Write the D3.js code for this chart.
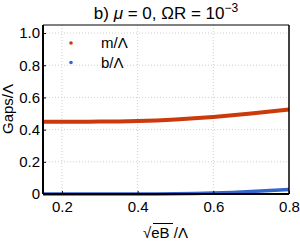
<!DOCTYPE html>
<html><head><meta charset="utf-8">
<script src="https://cdn.jsdelivr.net/npm/d3@7"></script>
<style>body{margin:0;background:#fff}svg{display:block;font-family:"Liberation Sans",Arial,sans-serif}</style>
</head><body>
<svg id="c" width="300" height="245"></svg>
<script>
const xVals = [0.15,0.2,0.25,0.3,0.35,0.4,0.45,0.5,0.55,0.6,0.65,0.7,0.75,0.8];
const mVals = [0.449,0.449,0.449,0.450,0.451,0.453,0.457,0.463,0.470,0.479,0.489,0.500,0.512,0.525];
const bVals = [0,0,0,0,0,0,0,0.001,0.003,0.006,0.010,0.015,0.021,0.028];
const xTicks = [0.2,0.4,0.6,0.8];
const yTicks = [0,0.2,0.4,0.6,0.8,1.0];
const yTickLabels = ["0","0.2","0.4","0.6","0.8","1.0"];
const seriesNames = ["m/Λ","b/Λ"];
const colors = ["#cc3a0c","#3366cc"];

const svg = d3.select("#c");
const L=43, R=289, T=25, B=194;
const x = d3.scaleLinear().domain([0.15,0.8]).range([L,R]);
const y = d3.scaleLinear().domain([0,1.05]).range([B,T]);

// grid
svg.append("g").selectAll("line").data(xTicks.filter(d=>d<0.8)).join("line")
  .attr("x1",d=>x(d)).attr("x2",d=>x(d)).attr("y1",T).attr("y2",B)
  .attr("stroke","#cfcfcf").attr("stroke-dasharray","1,2");
svg.append("g").selectAll("line").data(yTicks.filter(d=>d>0)).join("line")
  .attr("x1",L).attr("x2",R).attr("y1",d=>y(d)).attr("y2",d=>y(d))
  .attr("stroke","#cfcfcf").attr("stroke-dasharray","1,2");

// series
const line = d3.line().x(d=>x(d[0])).y(d=>y(d[1])).curve(d3.curveMonotoneX);
[mVals,bVals].forEach((vals,i)=>{
  svg.append("path").datum(xVals.map((v,j)=>[v,vals[j]]))
    .attr("d",line).attr("fill","none").attr("stroke",colors[i]).attr("stroke-width",i===0?4:3.5);
});

// frame
svg.append("line").attr("x1",L).attr("x2",R).attr("y1",T).attr("y2",T).attr("stroke","#000").attr("stroke-width",1);
svg.append("line").attr("x1",R).attr("x2",R).attr("y1",T).attr("y2",B).attr("stroke","#000").attr("stroke-width",1.5);

// axes
const ax = svg.append("g").attr("transform",`translate(0,${B})`)
  .call(d3.axisBottom(x).tickValues(xTicks).tickSize(-3).tickPadding(7).tickFormat(d3.format(".1f")));
const ay = svg.append("g").attr("transform",`translate(${L},0)`)
  .call(d3.axisLeft(y).tickValues(yTicks).tickSize(-3).tickPadding(3).tickFormat((d,i)=>yTickLabels[i]));
[ax,ay].forEach(g=>{
  g.select(".domain").attr("stroke","#000").attr("stroke-width",2);
  g.selectAll(".tick line").attr("stroke","#000");
  g.selectAll("text").attr("font-size",15).attr("fill","#000").attr("font-family","Liberation Sans, Arial, sans-serif");
});
ay.select(".domain").attr("d",`M0,${B}V${T}`);
ax.select(".domain").attr("d",`M${L},0H${R}`);

// legend
seriesNames.forEach((n,i)=>{
  const yy = 43 + i*19.5;
  svg.append("circle").attr("cx",71).attr("cy",yy).attr("r",1.8).attr("fill",colors[i]);
  svg.append("text").attr("x",101).attr("y",yy+5).attr("font-size",15).text(n);
});

// title
const t = svg.append("text").attr("x",166).attr("y",19).attr("text-anchor","middle").attr("font-size",17);
t.append("tspan").text("b) ");
t.append("tspan").attr("font-style","italic").text("μ");
t.append("tspan").text(" = 0, ΩR = 10");
t.append("tspan").attr("dy",-7).attr("font-size",12).text("−3");

// y label
svg.append("text").attr("transform","translate(13,109) rotate(-90)").attr("text-anchor","middle")
  .attr("font-size",15).text("Gaps/Λ");

// x label
const xl = svg.append("text").attr("x",143).attr("y",238).attr("font-size",15);
xl.append("tspan").text("√");
xl.append("tspan").text("eB");
xl.append("tspan").text(" /Λ");
svg.append("line").attr("x1",153).attr("x2",173).attr("y1",223.5).attr("y2",223.5).attr("stroke","#000").attr("stroke-width",1);
</script>
</body></html>
